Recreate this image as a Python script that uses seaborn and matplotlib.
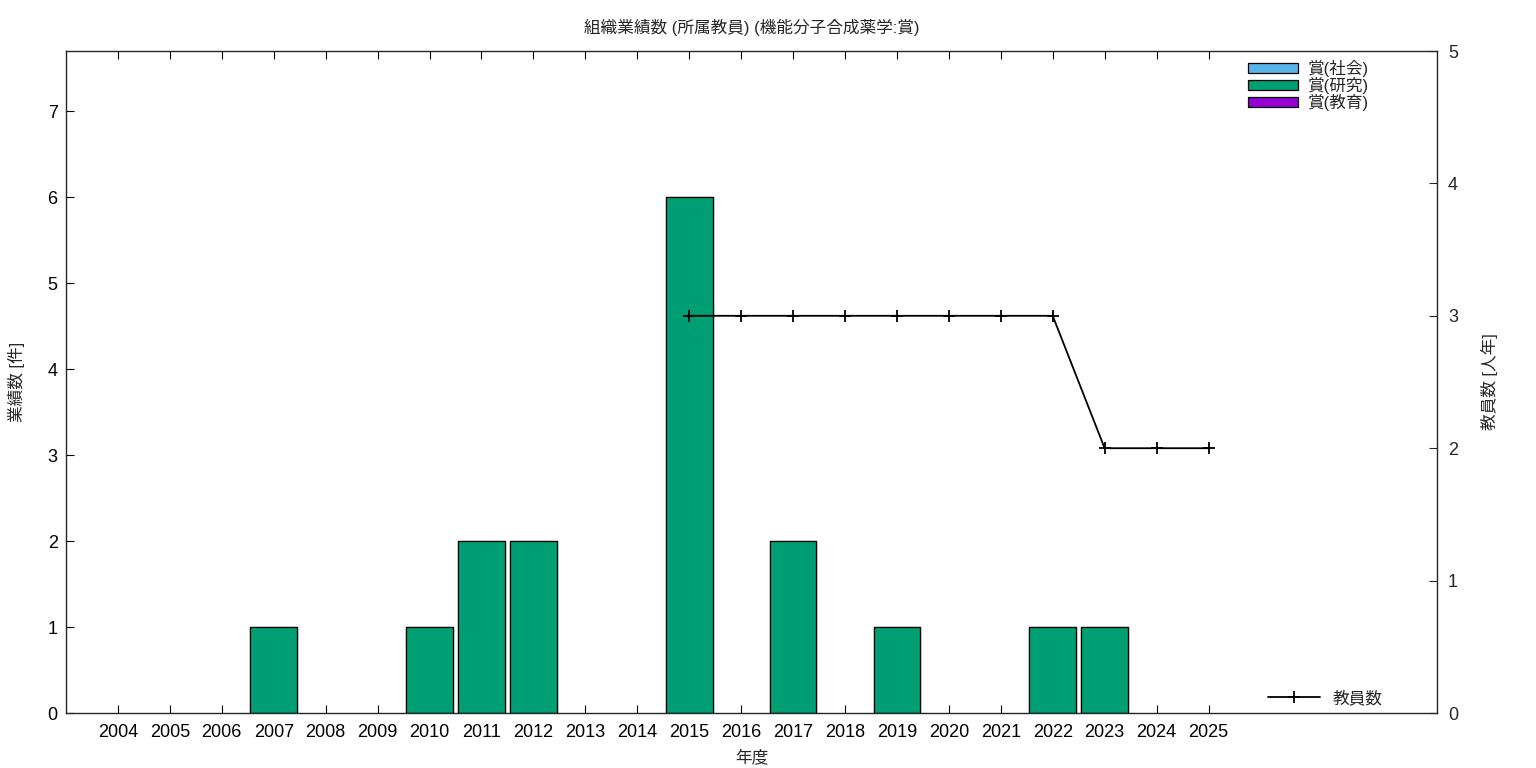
import numpy as np
import pandas as pd
import matplotlib
matplotlib.use("Agg")
import matplotlib.pyplot as plt
import seaborn as sns
from matplotlib.patches import Patch
from matplotlib.lines import Line2D

years = [str(y) for y in range(2004, 2026)]
award_social = [0] * 22
award_research = [0, 0, 0, 1, 0, 0, 1, 2, 2, 0, 0, 6, 0, 2, 0, 1, 0, 0, 1, 1, 0, 0]
award_education = [0] * 22
staff = [np.nan] * 11 + [3, 3, 3, 3, 3, 3, 3, 3, 2, 2, 2]

series_labels = ["賞(社会)", "賞(研究)", "賞(教育)"]
series_colors = ["#56B4E9", "#009E73", "#9400D3"]

sns.set_style("ticks")
plt.rcParams["font.family"] = ["Liberation Sans", "Noto Sans CJK JP", "DejaVu Sans"]

fig = plt.figure(figsize=(15.36, 7.68), dpi=100)
ax = fig.add_axes([66 / 1536, 1 - 713 / 768, (1437 - 66) / 1536, (713 - 51) / 768])

df = pd.DataFrame({"year": years, "s": award_social, "r": award_research, "e": award_education})
df["c1"] = df["s"]
df["c2"] = df["s"] + df["r"]
df["c3"] = df["s"] + df["r"] + df["e"]
for c in ["c1", "c2", "c3"]:
    df[c] = df[c].where(df[c] > 0, np.nan)

for col, color in zip(["c3", "c2", "c1"], series_colors[::-1]):
    sns.barplot(data=df, x="year", y=col, order=years, color=color, width=0.9,
                edgecolor="black", linewidth=0.9, saturation=1, ax=ax, errorbar=None)

ax.set_xlim(-1, 25.4)
ax.set_ylim(0, 7.7)
ax.set_yticks(range(0, 8))
ax.tick_params(axis="both", direction="in", labelsize=13, length=6, width=0.8, colors="black")
ax.tick_params(axis="x", top=True, pad=8)
ax.tick_params(axis="y", pad=6)
ax.set_xlabel("年度", fontsize=12, labelpad=6)
ax.set_ylabel("業績数 [件]", fontsize=12, labelpad=16)
for sp in ax.spines.values():
    sp.set_visible(True)
    sp.set_linewidth(0.9)
    sp.set_color("black")

ax2 = ax.twinx()
xs = np.arange(len(years))
sns.lineplot(x=xs, y=staff, ax=ax2, color="black", linewidth=1.3, marker="+",
             markersize=9, markeredgewidth=1.3, markeredgecolor="black", legend=False)
ax2.set_ylim(0, 5)
ax2.set_yticks(range(0, 6))
ax2.tick_params(axis="y", direction="in", labelsize=13, length=6, width=0.8, pad=8)
ax2.set_ylabel("教員数 [人年]", fontsize=12, labelpad=16, rotation=90)
ax.set_xlim(-1, 25.4)

ax.set_title("組織業績数 (所属教員) (機能分子合成薬学:賞)", fontsize=12, pad=13)

handles = [Patch(facecolor=c, edgecolor="black", linewidth=0.9) for c in series_colors]
leg1 = ax2.legend(handles, series_labels, loc="upper right", bbox_to_anchor=(0.96, 1.007),
                  frameon=False, fontsize=12, handlelength=3.0, handleheight=0.5,
                  labelspacing=0.0, handletextpad=0.6, borderpad=0.3)
ax2.add_artist(leg1)
lh = [Line2D([0], [0], color="black", linewidth=1.3, marker="+", markersize=9, markeredgewidth=1.3)]
ax2.legend(lh, ["教員数"], loc="lower right", bbox_to_anchor=(0.971, -0.012),
           frameon=False, fontsize=12, handlelength=3.1, handletextpad=0.75)

fig.savefig("out.png", dpi=100)
